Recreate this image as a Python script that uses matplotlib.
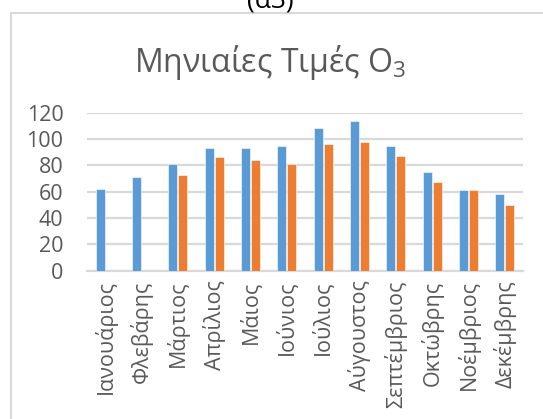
import matplotlib
matplotlib.use("Agg")
import matplotlib.pyplot as plt
import numpy as np
from matplotlib.patches import Rectangle

plt.rcParams['font.family'] = ['Open Sans', 'DejaVu Sans']
plt.rcParams['mathtext.default'] = 'regular'

months = ['Ιανουάριος', 'Φλεβάρης', 'Μάρτιος', 'Απρίλιος', 'Μάιος', 'Ιούνιος',
          'Ιούλιος', 'Αύγουστος', 'Σεπτέμβριος', 'Οκτώβρης', 'Νοέμβριος', 'Δεκέμβρης']
series_a = [62, 71, 81, 93, 93, 95, 108, 114, 95, 75, 61, 58]
series_b = [np.nan, np.nan, 73, 86, 84, 81, 96, 98, 87, 67, 61, 50]
yticks = [0, 20, 40, 60, 80, 100, 120]

BLUE = '#5B9BD5'
ORANGE = '#ED7D31'
GRID = '#D9D9D9'
TEXT = '#595959'

fig = plt.figure(figsize=(5.43, 4.19), dpi=100)
ax = fig.add_axes([87/543, 1-270.7/419, (523-87)/543, (270.7-112.7)/419])

x = np.arange(len(months))
w = 0.245
off = 0.14
ax.bar(x - off, series_a, width=w, color=BLUE, edgecolor='white', linewidth=0.4, zorder=3)
ax.bar(x + off, series_b, width=w, color=ORANGE, edgecolor='white', linewidth=0.4, zorder=3)

ax.set_xlim(-0.5, len(months) - 0.5)
ax.set_ylim(0, 120)
ax.set_yticks(yticks)
ax.set_yticklabels([str(v) for v in yticks])
ax.set_xticks(x)
ax.set_xticklabels(months, rotation=90)
ax.tick_params(axis='both', length=0, labelsize=15.5, colors=TEXT)
ax.tick_params(axis='y', pad=17)
ax.tick_params(axis='x', pad=7)
ax.yaxis.grid(True, color=GRID, linewidth=1.6, zorder=0)
for s in ['top', 'right', 'left']:
    ax.spines[s].set_visible(False)
ax.spines['bottom'].set_color(GRID)
ax.spines['bottom'].set_linewidth(1.6)

# Chart frame
fig.patches.append(Rectangle((11/543, -0.05), 1.0, 1 - 13/419 + 0.05,
                             transform=fig.transFigure, fill=False,
                             edgecolor=GRID, linewidth=1.5))

fig.text(270/543, 1 - 62/419, 'Μηνιαίες Τιμές O$_3$', ha='center', va='center',
         fontsize=23, color=TEXT)
fig.text(270/543, 1 - 7/419, '(α3)', ha='center', va='baseline',
         fontsize=19, color='black')

fig.savefig('out.png', dpi=100)
